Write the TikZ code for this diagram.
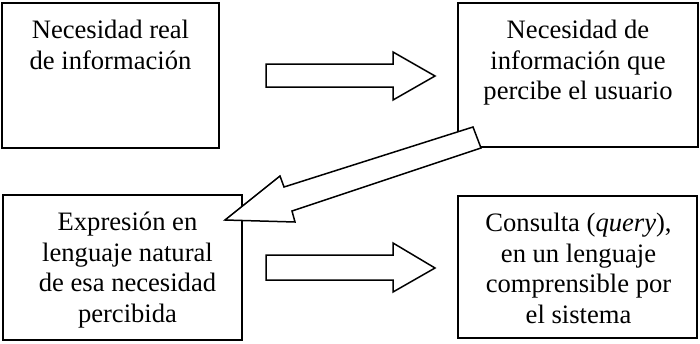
\documentclass[tikz,border=0pt]{standalone}
\usepackage{fontspec}
\setmainfont{Liberation Serif}
\begin{document}
\begin{tikzpicture}[x=1pt,y=-1pt,
  box/.style={draw, line width=1.6pt, inner sep=0pt},
  txt/.style={anchor=north, align=center, inner sep=0pt,
    font=\fontsize{26.6}{30.5}\selectfont},
  blockarrow/.style={draw, fill=white, line width=1.5pt, line join=miter}]
\useasboundingbox (0,0) rectangle (700,343);
% boxes
\node[box, minimum width=217pt, minimum height=145pt] (b1) at (110.5,75.5) {};
\node[box, minimum width=240pt, minimum height=144pt] (b2) at (578,75) {};
\node[box, minimum width=239pt, minimum height=145pt] (b3) at (122.5,267.5) {};
\node[box, minimum width=239pt, minimum height=142pt] (b4) at (577.5,267) {};
% texts
\node[txt] (t1) at ([yshift=-18pt]b1.north) {Necesidad real\\de información};
\node[txt] (t2) at ([yshift=-18pt]b2.north) {Necesidad de\\información que\\percibe el usuario};
\node[txt] (t3) at ([xshift=5pt,yshift=-18pt]b3.north) {Expresión en\\lenguaje natural\\de esa necesidad\\percibida};
\node[txt] (t4) at ([xshift=1pt,yshift=-18pt]b4.north) {Consulta (\textit{query}),\\en un lenguaje\\comprensible por\\el sistema};
% block arrows
\coordinate (a1t) at (435,76);
\draw[blockarrow] (266,64) -- (393,64) -- (393,52) -- (a1t) -- (393,100) -- (393,87) -- (266,87) -- cycle;
\coordinate (a2t) at (435,268);
\draw[blockarrow] (266,255) -- (393,255) -- (393,243) -- (a2t) -- (393,292) -- (393,280) -- (266,280) -- cycle;
\coordinate (a3t) at (225,220);
\draw[blockarrow] (473,127) -- (481,148) -- (292,211) -- (295,222) -- (a3t) -- (280,176) -- (284,187) -- cycle;
\end{tikzpicture}
\end{document}
